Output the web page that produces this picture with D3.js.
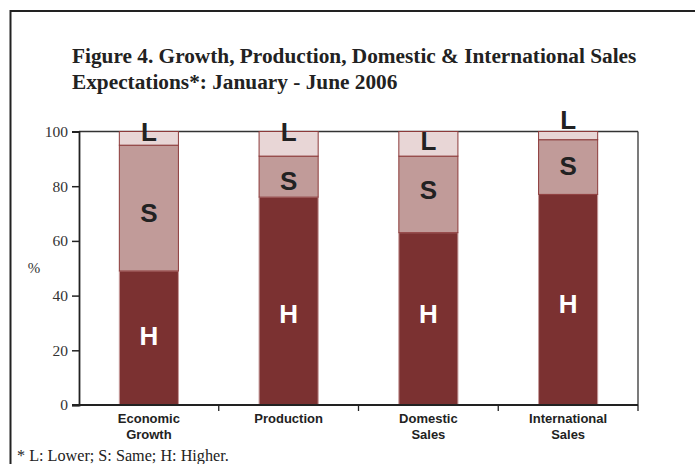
<!DOCTYPE html>
<html><head><meta charset="utf-8">
<script src="https://cdn.jsdelivr.net/npm/d3@7"></script>
<style>body{margin:0;background:#fff}svg{display:block}</style>
</head><body>
<script>
const categories = [["Economic","Growth"],["Production"],["Domestic","Sales"],["International","Sales"]];
const higher = [49, 76, 63, 77];
const same   = [46, 15, 28, 20];
const lower  = [5, 9, 9, 3];
const yTicks = [0, 20, 40, 60, 80, 100];
// annotation letter anchors (in % units)
const labelL = [99.8, 99.8, 96.5, 104.2];
const labelS = [70.2, 81.9, 78.6, 87.4];
const labelH = [25.1, 33.4, 33.3, 37.0];

const W = 695, H = 464;
const svg = d3.select("body").append("svg").attr("width", W).attr("height", H);

// outer frame
svg.append("rect").attr("x", 10.5).attr("y", 11).attr("width", 700).attr("height", 470)
  .attr("fill", "none").attr("stroke", "#222").attr("stroke-width", 2);

// title
const title = svg.append("text").attr("font-family", "Liberation Serif").attr("font-weight", "bold")
  .attr("font-size", 21.3).attr("fill", "#222");
title.append("tspan").attr("x", 72).attr("y", 63).text("Figure 4. Growth, Production, Domestic & International Sales");
title.append("tspan").attr("x", 72).attr("y", 89).text("Expectations*: January - June 2006");

const x0 = 79, x1 = 638, yTop = 131.5, yBot = 405;
const keys = categories.map(c => c.join(" "));
const xBand = d3.scaleBand().domain(keys).range([x0, x1]).paddingInner(0.57).paddingOuter(0.285);
const xEdge = d3.scaleBand().domain(keys).range([x0, x1]).padding(0);
const y = d3.scaleLinear().domain([0, 100]).range([yBot, yTop]);

const series = [
  {name: "H", vals: higher, fill: "#7b3131", stroke: "#c79b9b"},
  {name: "S", vals: same, fill: "#c19b99", stroke: "#8c3a3a"},
  {name: "L", vals: lower, fill: "#e8d6d6", stroke: "#8c3a3a"}
];
const table = keys.map((k, i) => ({key: k, H: higher[i], S: same[i], L: lower[i]}));
const stack = d3.stack().keys(["H", "S", "L"])(table);

// frame top & right
svg.append("line").attr("x1", x0).attr("x2", x1).attr("y1", yTop).attr("y2", yTop).attr("stroke", "#333").attr("stroke-width", 1.3);
svg.append("line").attr("x1", x1).attr("x2", x1).attr("y1", yTop).attr("y2", yBot).attr("stroke", "#333").attr("stroke-width", 1.3);

stack.forEach((layer, li) => {
  svg.append("g").selectAll("rect").data(layer).join("rect")
    .attr("x", d => xBand(d.data.key) + 0.5)
    .attr("width", xBand.bandwidth() - 1)
    .attr("y", d => y(d[1]))
    .attr("height", d => y(d[0]) - y(d[1]))
    .attr("fill", series[li].fill)
    .attr("stroke", series[li].stroke).attr("stroke-width", 1);
});

// y axis
const yAxis = svg.append("g").attr("transform", `translate(${x0},0)`)
  .call(d3.axisLeft(y).tickValues(yTicks).tickSize(7).tickPadding(4).tickFormat(d3.format("d")));
yAxis.select(".domain").attr("stroke", "#222").attr("stroke-width", 1.8);
yAxis.selectAll(".tick line").attr("stroke", "#222").attr("stroke-width", 1.5);
yAxis.selectAll("text").attr("font-family", "Liberation Serif").attr("font-size", 15.5).attr("fill", "#333");

svg.append("text").attr("x", 34).attr("y", 268).attr("text-anchor", "middle").attr("dominant-baseline", "central")
  .attr("font-family", "Liberation Serif").attr("font-size", 15).attr("fill", "#333").text("%");

// x axis
svg.append("line").attr("x1", x0 - 7).attr("x2", x1).attr("y1", yBot).attr("y2", yBot).attr("stroke", "#222").attr("stroke-width", 1.8);
const edges = keys.map(k => xEdge(k)).concat([x1]);
svg.append("g").selectAll("line").data(edges.slice(1)).join("line")
  .attr("x1", d => d).attr("x2", d => d).attr("y1", yBot).attr("y2", yBot + 6)
  .attr("stroke", "#222").attr("stroke-width", 1.3);

const xl = svg.append("g").selectAll("text").data(categories).join("text")
  .attr("font-family", "Liberation Sans").attr("font-weight", "bold").attr("font-size", 13)
  .attr("fill", "#222").attr("text-anchor", "middle");
xl.each(function(c, i) {
  const cx = xBand(keys[i]) + xBand.bandwidth() / 2;
  d3.select(this).selectAll("tspan").data(c).join("tspan")
    .attr("x", cx).attr("y", (d, j) => 423 + j * 15.5).text(d => d);
});

// letter annotations
function letters(arr, txt, color) {
  svg.append("g").selectAll("text").data(arr).join("text")
    .attr("x", (d, i) => xBand(keys[i]) + xBand.bandwidth() / 2)
    .attr("y", d => y(d))
    .attr("text-anchor", "middle").attr("dominant-baseline", "central")
    .attr("font-family", "Liberation Sans").attr("font-weight", "bold").attr("font-size", 26)
    .attr("fill", color).text(txt);
}
letters(labelL, "L", "#222");
letters(labelS, "S", "#222");
letters(labelH, "H", "#fff");

// footnote
svg.append("text").attr("x", 17).attr("y", 461).attr("font-family", "Liberation Serif").attr("font-size", 16.2)
  .attr("fill", "#222").text("* L: Lower; S: Same; H: Higher.");
</script>
</body></html>
